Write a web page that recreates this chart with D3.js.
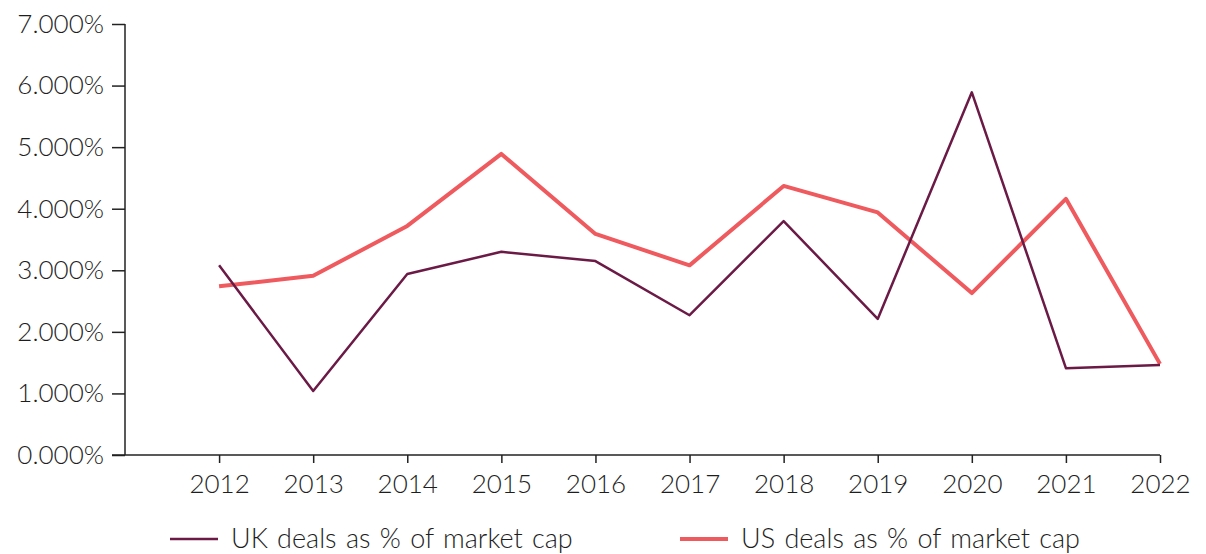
<!DOCTYPE html>
<html>
<head>
<meta charset="utf-8">
<script src="https://cdn.jsdelivr.net/npm/d3@7"></script>
<style>
  body { margin: 0; background: #fff; }
  text { font-family: Lato, "Open Sans", sans-serif; font-weight: 300; fill: #1e1e1e; }
</style>
</head>
<body>
<div id="chart"></div>
<script>
const years = [2012, 2013, 2014, 2015, 2016, 2017, 2018, 2019, 2020, 2021, 2022];
const ukValues = [3.08, 1.04, 2.94, 3.30, 3.15, 2.27, 3.80, 2.21, 5.89, 1.41, 1.46];
const usValues = [2.74, 2.91, 3.72, 4.89, 3.59, 3.08, 4.37, 3.94, 2.63, 4.16, 1.48];
const yTicks = [0, 1, 2, 3, 4, 5, 6, 7];
const seriesNames = ["UK deals as % of market cap", "US deals as % of market cap"];
const colors = ["#6b1a46", "#ee5a5e"];

const width = 1206, height = 554;
const margin = { left: 125, right: 46, top: 24, bottom: 99 };

const svg = d3.select("#chart")
  .append("svg")
  .attr("width", width)
  .attr("height", height);

const x = d3.scaleLinear()
  .domain([2011, 2022])
  .range([margin.left, width - margin.right]);

const y = d3.scaleLinear()
  .domain([0, 7])
  .range([height - margin.bottom, margin.top]);

// y axis
const yAxis = svg.append("g")
  .attr("transform", `translate(${margin.left},0)`)
  .call(d3.axisLeft(y).tickValues(yTicks).tickSize(13).tickPadding(8)
    .tickFormat(d => d3.format(".3f")(d) + "%"));
yAxis.selectAll("text").attr("font-size", 26).style("font-family", null);
yAxis.selectAll("line, path").attr("stroke", "#222").attr("stroke-width", 1.5);
yAxis.select(".domain").attr("d", `M0,${y(7)}V${y(0)}`);

// x axis
const xAxis = svg.append("g")
  .attr("transform", `translate(0,${y(0)})`)
  .call(d3.axisBottom(x).tickValues(years).tickSize(8).tickPadding(12)
    .tickFormat(d3.format("d")));
xAxis.selectAll("text").attr("font-size", 26).style("font-family", null);
xAxis.selectAll("line, path").attr("stroke", "#222").attr("stroke-width", 1.5);
xAxis.select(".domain").attr("d", `M${margin.left - 13},0H${x(2022)}`);

const line = d3.line()
  .x((d, i) => x(years[i]))
  .y(d => y(d));

svg.append("path")
  .datum(usValues)
  .attr("fill", "none")
  .attr("stroke", colors[1])
  .attr("stroke-width", 4)
  .attr("stroke-linejoin", "round")
  .attr("d", line);

svg.append("path")
  .datum(ukValues)
  .attr("fill", "none")
  .attr("stroke", colors[0])
  .attr("stroke-width", 2.5)
  .attr("stroke-linejoin", "round")
  .attr("d", line);

// legend
const legendX = [170, 680];
const legend = svg.append("g")
  .selectAll("g")
  .data(seriesNames)
  .join("g")
  .attr("transform", (d, i) => `translate(${legendX[i]},539)`);

legend.append("line")
  .attr("x1", 0).attr("x2", 48)
  .attr("stroke", (d, i) => colors[i])
  .attr("stroke-width", (d, i) => i ? 4 : 2.5);

legend.append("text")
  .attr("x", 61)
  .attr("dy", "0.35em")
  .attr("font-size", 27)
  .attr("word-spacing", 2)
  .text(d => d);
</script>
</body>
</html>
